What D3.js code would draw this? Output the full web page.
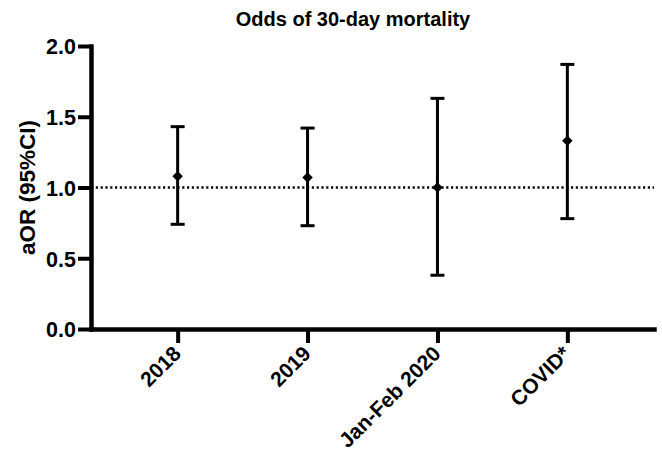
<!DOCTYPE html>
<meta charset="utf-8">
<style>
body { margin: 0; background: #fff; }
text { font-family: "Liberation Sans", Arial, sans-serif; font-weight: bold; fill: #000; }
</style>
<body>
<div id="chart"></div>
<script src="https://d3js.org/d3.v7.min.js"></script>
<script>
// odds ratios with 95% CI
var groups = ["2018", "2019", "Jan-Feb 2020", "COVID*"];
var estimate = [1.08, 1.07, 1.00, 1.33];
var lower = [0.74, 0.73, 0.38, 0.78];
var upper = [1.43, 1.42, 1.63, 1.87];
var yTicks = [0, 0.5, 1.0, 1.5, 2.0];

var width = 662, height = 456;
var svg = d3.select("#chart").append("svg").attr("width", width).attr("height", height);

var x = d3.scalePoint().domain(groups).range([91, 654]).padding(0.667);
var y = d3.scaleLinear().domain([0, 2]).range([329, 46]);

// reference line at OR = 1
svg.append("line")
   .attr("x1", 91).attr("x2", 654)
   .attr("y1", y(1)).attr("y2", y(1))
   .attr("stroke", "#000").attr("stroke-width", 2.6)
   .attr("stroke-dasharray", "2.2,2.6");

// axes
var yAxis = svg.append("g").attr("transform", "translate(91,0)")
   .call(d3.axisLeft(y).tickValues(yTicks).tickFormat(d3.format(".1f")).tickSize(13).tickSizeOuter(0));
var xAxis = svg.append("g").attr("transform", "translate(0,329)")
   .call(d3.axisBottom(x).tickSize(14).tickSizeOuter(0));

[yAxis, xAxis].forEach(function(a){
  a.select(".domain").attr("stroke-width", 4.5).attr("stroke-linecap", "square");
  a.selectAll(".tick line").attr("stroke-width", 4);
  a.selectAll("text").style("font-family", "Liberation Sans, Arial, sans-serif")
    .style("font-weight", "bold").attr("fill", "#000");
});
yAxis.selectAll("text").style("font-size", "21.5px").attr("x", -15).attr("dy", "0.36em");
xAxis.selectAll("text")
   .style("font-size", "21px")
   .attr("text-anchor", "end")
   .attr("transform", "translate(4,26) rotate(-45)")
   .attr("x", 0).attr("y", 0).attr("dy", 0);

// error bars
var bars = svg.append("g");
groups.forEach(function(g, i){
  var cx = x(g);
  bars.append("line").attr("x1", cx).attr("x2", cx)
     .attr("y1", y(lower[i])).attr("y2", y(upper[i]))
     .attr("stroke", "#000").attr("stroke-width", 3);
  [lower[i], upper[i]].forEach(function(v){
    bars.append("line").attr("x1", cx - 7).attr("x2", cx + 7)
       .attr("y1", y(v)).attr("y2", y(v))
       .attr("stroke", "#000").attr("stroke-width", 3);
  });
  bars.append("path")
     .attr("d", d3.symbol().type(d3.symbolDiamond2).size(70)())
     .attr("transform", "translate(" + cx + "," + y(estimate[i]) + ")")
     .attr("fill", "#000");
});

svg.append("text").attr("x", 353).attr("y", 26)
   .attr("text-anchor", "middle").style("font-size", "20px")
   .text("Odds of 30-day mortality");

svg.append("text")
   .attr("transform", "translate(35," + y(1) + ") rotate(-90)")
   .attr("text-anchor", "middle").style("font-size", "22.5px")
   .text("aOR (95%CI)");
</script>
</body>
</html>
